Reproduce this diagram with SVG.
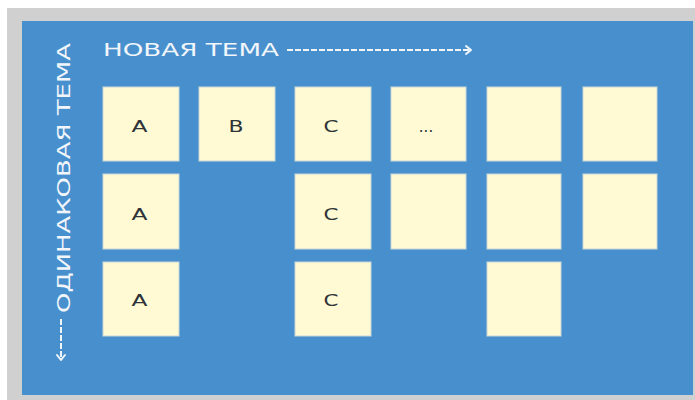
<svg xmlns="http://www.w3.org/2000/svg" width="695" height="400" viewBox="0 0 695 400">
<defs>
<style>
.card{fill:#FFFAD4;stroke:#C9D6DA;stroke-width:1}
.lbl{font-family:"DejaVu Sans","Liberation Sans",sans-serif;font-size:15px;fill:#2E3338;text-anchor:middle}
.head{font-family:"DejaVu Sans","Liberation Sans",sans-serif;font-size:17px;fill:#F2F6FB}
.dash{fill:none;stroke:#F2F6FB;stroke-width:2;stroke-dasharray:6 2}
.tip{fill:none;stroke:#F2F6FB;stroke-width:2;stroke-linecap:round;stroke-linejoin:round}
</style>
</defs>
<rect x="0" y="0" width="695" height="400" fill="#FFFFFF"/>
<rect x="7" y="8" width="688" height="392" fill="#D0D0D0"/>
<rect x="22" y="21" width="671" height="374" fill="#4890CD"/>
<g id="titles">
<text class="head" x="103" y="56" textLength="176" lengthAdjust="spacingAndGlyphs">НОВАЯ ТЕМА</text>
<text class="head" transform="translate(70,313) rotate(-90)" x="0" y="0" textLength="270" lengthAdjust="spacingAndGlyphs">ОДИНАКОВАЯ ТЕМА</text>
</g>
<g id="connectors">
<line class="dash" x1="287" y1="50" x2="470" y2="50"/>
<polyline class="tip" points="466,46 471,50 466,54"/>
<line class="dash" x1="61" y1="319" x2="61" y2="359"/>
<polyline class="tip" points="57,355 61,360 65,355"/>
</g>
<g id="r1c1"><rect class="card" x="103" y="87" width="76" height="74"/><text class="lbl" x="139.5" y="131.5" textLength="16" lengthAdjust="spacingAndGlyphs">A</text></g>
<g id="r1c2"><rect class="card" x="199" y="87" width="76" height="74"/><text class="lbl" x="236" y="131.5" textLength="15" lengthAdjust="spacingAndGlyphs">B</text></g>
<g id="r1c3"><rect class="card" x="295" y="87" width="76" height="74"/><text class="lbl" x="331" y="131.5" textLength="15" lengthAdjust="spacingAndGlyphs">C</text></g>
<g id="r1c4"><rect class="card" x="391" y="87" width="75" height="74"/><text class="lbl" x="426" y="131.5">...</text></g>
<g id="r1c5"><rect class="card" x="487" y="87" width="74" height="74"/></g>
<g id="r1c6"><rect class="card" x="583" y="87" width="74" height="74"/></g>
<g id="r2c1"><rect class="card" x="103" y="174" width="76" height="75"/><text class="lbl" x="139.5" y="219.5" textLength="16" lengthAdjust="spacingAndGlyphs">A</text></g>
<g id="r2c3"><rect class="card" x="295" y="174" width="76" height="75"/><text class="lbl" x="331" y="219.5" textLength="15" lengthAdjust="spacingAndGlyphs">C</text></g>
<g id="r2c4"><rect class="card" x="391" y="174" width="75" height="75"/></g>
<g id="r2c5"><rect class="card" x="487" y="174" width="74" height="75"/></g>
<g id="r2c6"><rect class="card" x="583" y="174" width="74" height="75"/></g>
<g id="r3c1"><rect class="card" x="103" y="262" width="76" height="74"/><text class="lbl" x="139.5" y="306" textLength="16" lengthAdjust="spacingAndGlyphs">A</text></g>
<g id="r3c3"><rect class="card" x="295" y="262" width="76" height="74"/><text class="lbl" x="331" y="306" textLength="15" lengthAdjust="spacingAndGlyphs">C</text></g>
<g id="r3c5"><rect class="card" x="487" y="262" width="74" height="74"/></g>
</svg>
